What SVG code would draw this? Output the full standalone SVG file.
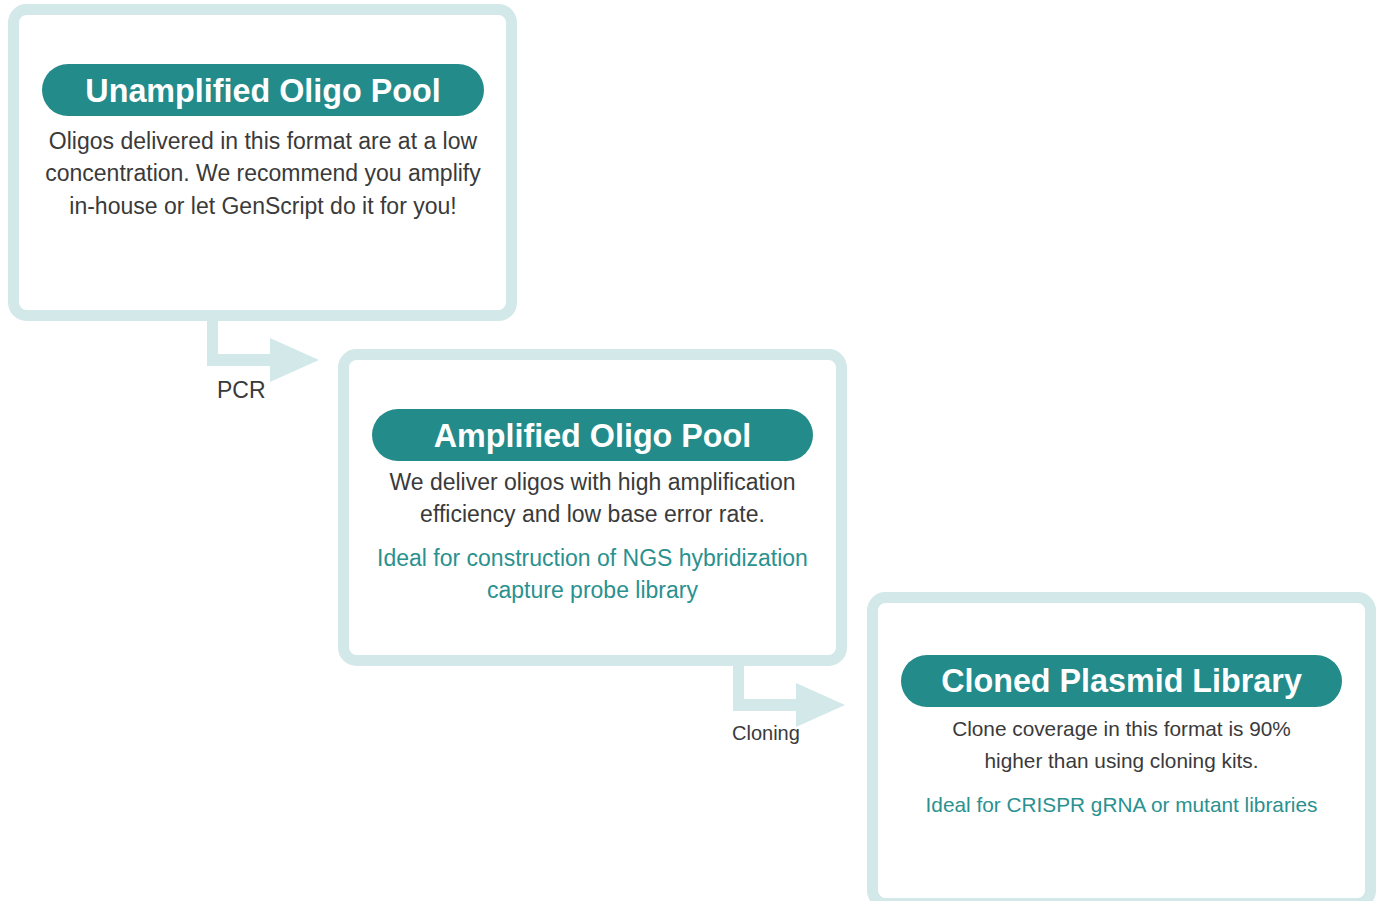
<svg xmlns="http://www.w3.org/2000/svg" width="1379" height="901" viewBox="0 0 1379 901">
<style>
.box{fill:#fff;stroke:#d3e8e9;stroke-width:11}
.pill{fill:#238b8a}
.title{font-family:"Liberation Sans",Arial,sans-serif;font-weight:bold;font-size:32.3px;fill:#fff;text-anchor:middle}
.body{font-family:"Liberation Sans",Arial,sans-serif;font-size:23px;fill:#3a3a3a;text-anchor:middle}
.body3{font-family:"Liberation Sans",Arial,sans-serif;font-size:20.8px;fill:#3a3a3a;text-anchor:middle}
.teal{fill:#2a918f}
.conn{fill:#d3e8e9}
.lbl{font-family:"Liberation Sans",Arial,sans-serif;font-size:21px;fill:#3a3a3a}
</style>
<rect width="1379" height="901" fill="#fff"/>
<g id="connectors">
<path class="conn" d="M207 321 H218 V354 H270 V338 L319 360 L270 382 V366 H207 Z"/>
<path class="conn" d="M733 666 H744 V699 H796 V683 L845 705 L796 727 V711 H733 Z"/>
<text class="lbl" x="217" y="398" style="font-size:23px">PCR</text>
<text class="lbl" x="732" y="740" style="font-size:20px">Cloning</text>
</g>
<g id="node-unamplified">
<rect class="box" x="13.5" y="9.5" width="498" height="306" rx="13"/>
<rect class="pill" x="42" y="64" width="442" height="52" rx="26"/>
<text class="title" x="263" y="102">Unamplified Oligo Pool</text>
<text class="body" x="263" y="149">Oligos delivered in this format are at a low</text>
<text class="body" x="263" y="181">concentration. We recommend you amplify</text>
<text class="body" x="263" y="214">in-house or let GenScript do it for you!</text>
</g>
<g id="node-amplified">
<rect class="box" x="343.5" y="354.5" width="498" height="306" rx="13"/>
<rect class="pill" x="372" y="409" width="441" height="52" rx="26"/>
<text class="title" x="592.5" y="447">Amplified Oligo Pool</text>
<text class="body" x="592.5" y="490">We deliver oligos with high amplification</text>
<text class="body" x="592.5" y="522">efficiency and low base error rate.</text>
<text class="body teal" x="592.5" y="566">Ideal for construction of NGS hybridization</text>
<text class="body teal" x="592.5" y="598">capture probe library</text>
</g>
<g id="node-cloned">
<rect class="box" x="872.5" y="597.5" width="498" height="306" rx="13"/>
<rect class="pill" x="901" y="655" width="441" height="52" rx="26"/>
<text class="title" x="1121.5" y="692">Cloned Plasmid Library</text>
<text class="body3" x="1121.5" y="736">Clone coverage in this format is 90%</text>
<text class="body3" x="1121.5" y="768">higher than using cloning kits.</text>
<text class="body3 teal" x="1121.5" y="812">Ideal for CRISPR gRNA or mutant libraries</text>
</g>
</svg>
